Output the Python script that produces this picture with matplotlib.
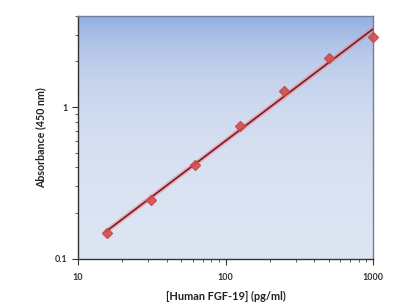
import numpy as np
import matplotlib
matplotlib.use('Agg')
import matplotlib.pyplot as plt
from matplotlib.colors import LinearSegmentedColormap
from matplotlib.ticker import LogLocator, NullFormatter, FixedLocator, FixedFormatter

# standard curve data
conc = [15.6, 31.25, 62.5, 125, 250, 500, 1000]
absorb = [0.149, 0.244, 0.415, 0.753, 1.27, 2.09, 2.90]

x_ticks = [10, 100, 1000]
x_ticklabels = ['10', '100', '1000']
y_ticks = [0.1, 1]
y_ticklabels = ['0.1', '1']

plt.rcParams['font.family'] = ['Lato', 'DejaVu Sans']

fig = plt.figure(figsize=(4, 3.07), dpi=100)
ax = fig.add_axes([0.195, 0.157, 0.738, 0.792])
ax.set_xscale('log')
ax.set_yscale('log')
ax.set_xlim(10, 1000)
ax.set_ylim(0.1, 4.0)

# gradient background
cmap = LinearSegmentedColormap.from_list('bg', ['#dde5f3', '#bccbea', '#8fb0e0'])
grad = np.linspace(0, 1, 256).reshape(-1, 1)
ax.imshow(grad, cmap=cmap, aspect='auto', origin='lower',
          extent=[10, 1000, 0.1, 4.0], zorder=0)

# log-log linear fit
lx = np.log10(conc)
ly = np.log10(absorb)
k, b = np.polyfit(lx, ly, 1)
fx = np.logspace(lx[0], lx[-1], 50)
fy = 10 ** (k * np.log10(fx) + b)
ax.plot(fx, fy, color='#f08080', lw=3.5, alpha=0.5, zorder=2, solid_capstyle='round')
ax.plot(fx, fy, color='#7a1a2a', lw=1.2, zorder=3)
ax.plot(conc, absorb, linestyle='none', marker='D', ms=5.5,
        color='#d0504d', markeredgecolor='#c84a48', zorder=4, clip_on=False, alpha=0.9)

ax.xaxis.set_major_locator(FixedLocator(x_ticks))
ax.xaxis.set_major_formatter(FixedFormatter(x_ticklabels))
ax.xaxis.set_minor_locator(LogLocator(base=10, subs=np.arange(2, 10)))
ax.xaxis.set_minor_formatter(NullFormatter())
ax.yaxis.set_major_locator(FixedLocator(y_ticks))
ax.yaxis.set_major_formatter(FixedFormatter(y_ticklabels))
ax.yaxis.set_minor_locator(LogLocator(base=10, subs=np.arange(2, 10)))
ax.yaxis.set_minor_formatter(NullFormatter())

ax.tick_params(which='major', direction='out', length=4, width=0.8, color='#333333',
               labelsize=6.5, labelcolor='#333333')
ax.tick_params(which='minor', direction='out', length=2.5, width=0.6, color='#444444')
ax.tick_params(axis='x', which='major', pad=6)
for lab in ax.get_xticklabels() + ax.get_yticklabels():
    lab.set_fontweight('bold')

for side in ['left', 'bottom']:
    ax.spines[side].set_color('#333333')
    ax.spines[side].set_linewidth(1.0)
for side in ['top', 'right']:
    ax.spines[side].set_color('#6d7f99')
    ax.spines[side].set_linewidth(1.0)

ax.set_xlabel('[Human FGF-19] (pg/ml)', fontsize=7.9, fontweight='bold',
              color='#222222', labelpad=7)
ax.set_ylabel('Absorbance (450 nm)', fontsize=7.7, fontweight='bold',
              color='#222222', labelpad=6)

fig.savefig('out.png', dpi=100)
